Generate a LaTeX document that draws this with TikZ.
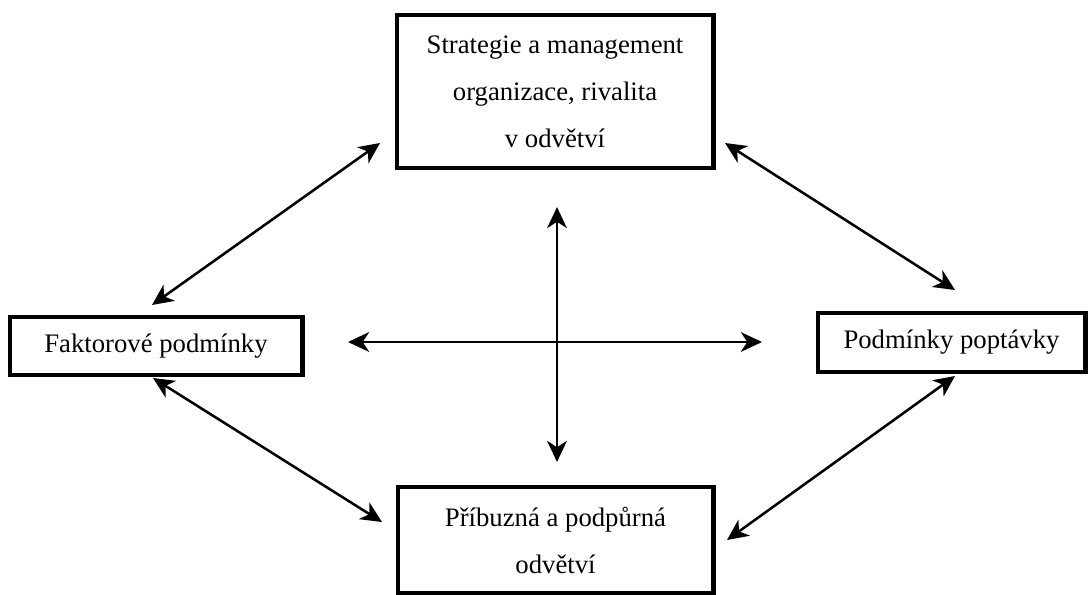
\documentclass[tikz,border=0pt]{standalone}
\usepackage{fontspec}
\setmainfont{Liberation Serif}
\usetikzlibrary{arrows.meta}

\begin{document}
\begin{tikzpicture}[x=0.025cm, y=-0.025cm,
    box/.style={draw, line width=3.5pt, align=center, inner sep=0pt,
      font=\fontsize{19}{33.4}\selectfont},
    link/.style={line width=1.8pt,
      {Stealth[length=15pt, width=14pt, inset=4.5pt]}-{Stealth[length=15pt, width=14pt, inset=4.5pt]}}]

    \useasboundingbox (0,0) rectangle (1090,594);

    % Boxes
    \node[box, minimum width=7.9cm, minimum height=3.825cm] (strat) at (555,91.5)
      {Strategie a management\\organizace, rivalita\\v odvětví};
    \node[box, minimum width=7.3cm, minimum height=1.45cm] (factor) at (156,346)
      {Faktorové podmínky};
    \node[box, minimum width=6.675cm, minimum height=1.475cm] (demand) at (951.5,342.5)
      {Podmínky poptávky};
    \node[box, minimum width=7.875cm, minimum height=2.65cm] (related) at (555.5,540)
      {Příbuzná a podpůrná\\odvětví};

    % Arrow ends
    \coordinate (tl1) at (152,305);  \coordinate (tl2) at (380,143);
    \coordinate (tr1) at (725,143);  \coordinate (tr2) at (955,290);
    \coordinate (bl1) at (153,378);  \coordinate (bl2) at (382,522);
    \coordinate (br1) at (955,376);  \coordinate (br2) at (727,540);
    \coordinate (hl) at (348,342);   \coordinate (hr) at (762,342);
    \coordinate (vt) at (557,207);   \coordinate (vb) at (557,462);

    % Diagonal links
    \draw[link] (tl1) -- (tl2);
    \draw[link] (tr1) -- (tr2);
    \draw[link] (bl1) -- (bl2);
    \draw[link] (br1) -- (br2);

    % Cross in the middle
    \draw[link] (hl) -- (hr);
    \draw[link] (vt) -- (vb);

\end{tikzpicture}
\end{document}
